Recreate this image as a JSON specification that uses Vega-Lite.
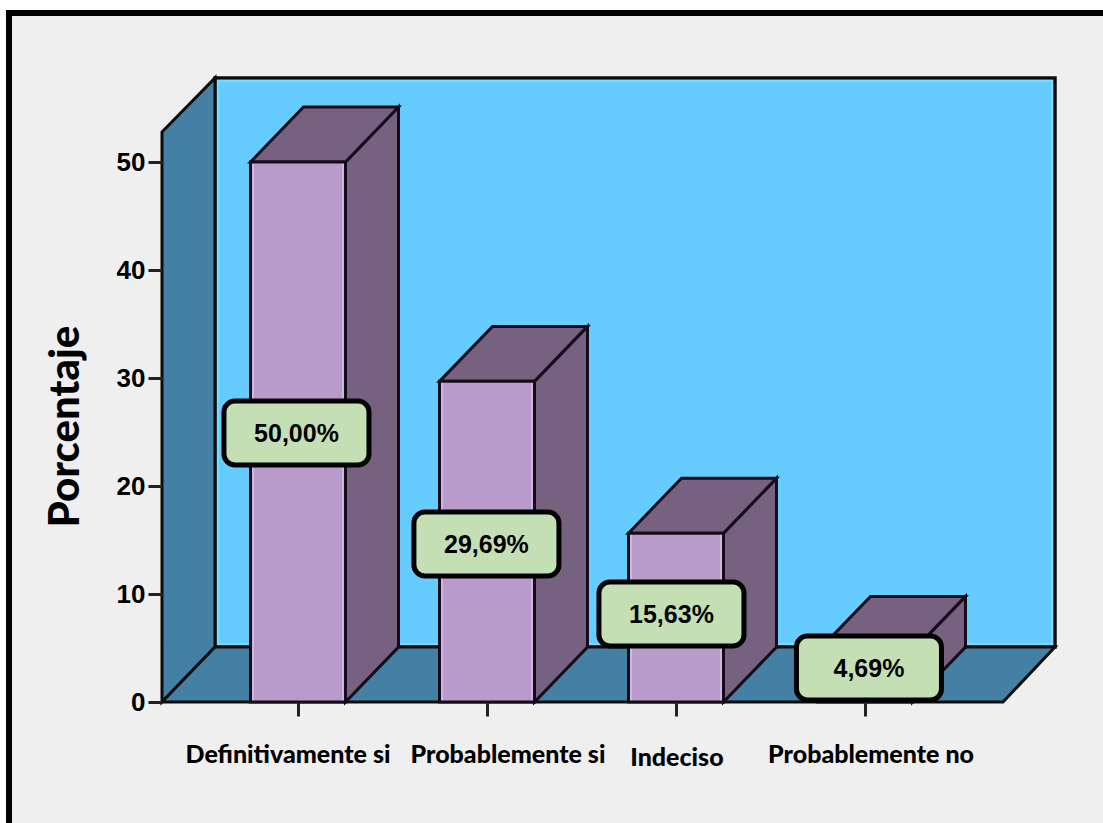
{
"$schema":"https://vega.github.io/schema/vega-lite/v6.json",
"width":1103,"height":823,"padding":0,
"autosize":{"type":"fit","contains":"padding"},
"background":"#ffffff",
"view":{"stroke":null},
"config":{"font":"Liberation Sans"},
"datasets":{
"barras":[
{"categoria":"Definitivamente si","posicion":0,"porcentaje":50,"etiqueta":"50,00%","etqX":-0.008,"etqY":24.9,"catX":-0.053,"catY":-4.9},
{"categoria":"Probablemente si","posicion":1,"porcentaje":29.69,"etiqueta":"29,69%","etqX":0.997,"etqY":14.63,"catX":1.111,"catY":-4.9},
{"categoria":"Indeciso","posicion":2,"porcentaje":15.63,"etiqueta":"15,63%","etqX":1.976,"etqY":8.15,"catX":2.005,"catY":-5.2},
{"categoria":"Probablemente no","posicion":3,"porcentaje":4.69,"etiqueta":"4,69%","etqX":3.021,"etqY":3.15,"catX":3.032,"catY":-4.9}
],
"lados":[
{"b":"A","x":0.2513,"y0":0,"y1":50},{"b":"A","x":0.5317,"y0":5.09,"y1":55.09},
{"b":"B","x":1.2513,"y0":0,"y1":29.69},{"b":"B","x":1.5317,"y0":5.09,"y1":34.78},
{"b":"C","x":2.2513,"y0":0,"y1":15.63},{"b":"C","x":2.5317,"y0":5.09,"y1":20.72},
{"b":"D","x":3.2513,"y0":0,"y1":4.69},{"b":"D","x":3.5317,"y0":5.09,"y1":9.78}
],
"tapas":[
{"b":"A","y":50,"x0":-0.2513,"x1":0.2513},{"b":"A","y":55.09,"x0":0.0291,"x1":0.5317},
{"b":"B","y":29.69,"x0":0.7487,"x1":1.2513},{"b":"B","y":34.78,"x0":1.0291,"x1":1.5317},
{"b":"C","y":15.63,"x0":1.7487,"x1":2.2513},{"b":"C","y":20.72,"x0":2.0291,"x1":2.5317},
{"b":"D","y":4.69,"x0":2.7487,"x1":3.2513},{"b":"D","y":9.78,"x0":3.0291,"x1":3.5317}
]
},
"layer":[
{"data":{"values":[{"x0":-1.5291,"x1":4.2593,"y0":63.8,"y1":-11.2037}]},
 "mark":{"type":"rect","fill":"#efefef"},
 "encoding":{
  "x":{"field":"x0","type":"quantitative","scale":{"domain":[-1.5767,4.2593],"nice":false,"zero":false,"padding":0},
    "axis":{"values":[0,1,2,3],"labels":false,"domain":false,"grid":false,"ticks":true,"tickSize":14,"tickWidth":3,"tickColor":"#222222","offset":-121,"title":null,"zindex":1}},
  "x2":{"field":"x1"},
  "y":{"field":"y0","type":"quantitative","scale":{"domain":[-11.2037,65],"nice":false,"zero":false,"padding":0},
    "axis":{"values":[0,10,20,30,40,50],"domain":false,"grid":false,"ticks":true,"tickSize":14,"tickWidth":3,"tickColor":"#222222","offset":-162,"labelFontSize":26,"labelFontWeight":"bold","labelColor":"#000000","labelPadding":3,
      "title":"Porcentaje","titleFont":"Lato","titleFontSize":42,"titleFontWeight":900,"titleColor":"#000000","titleAngle":270,"titleX":-97,"titleY":426,"titleBaseline":"middle","zindex":1}},
  "y2":{"field":"y1"}
 }},
{"data":{"values":[{"x0":-1.545,"x1":4.2593,"y0":64.07,"y1":63.52},{"x0":-1.545,"x1":-1.5132,"y0":64.07,"y1":-11.2037}]},
 "mark":{"type":"rect","fill":"#000000"},
 "encoding":{"x":{"field":"x0","type":"quantitative"},"x2":{"field":"x1"},"y":{"field":"y0","type":"quantitative"},"y2":{"field":"y1"}}},
{"data":{"values":[{"x0":-0.4392,"x1":4.0053,"y0":5.09,"y1":57.78}]},
 "mark":{"type":"rect","fill":"#66ccff","stroke":"#0c0c0c","strokeWidth":3.5},
 "encoding":{"x":{"field":"x0","type":"quantitative"},"x2":{"field":"x1"},"y":{"field":"y0","type":"quantitative"},"y2":{"field":"y1"}}},
{"data":{"values":[{"x0":-0.4242,"x1":3.9903,"y0":5.35,"y1":57.52}]},
 "mark":{"type":"rect","fillOpacity":0,"stroke":"#7adcff","strokeWidth":2},
 "encoding":{"x":{"field":"x0","type":"quantitative"},"x2":{"field":"x1"},"y":{"field":"y0","type":"quantitative"},"y2":{"field":"y1"}}},
{"data":{"values":[{"x":-0.7196,"y0":0,"y1":52.78},{"x":-0.4392,"y0":5.09,"y1":57.78}]},
 "mark":{"type":"area","orient":"vertical","fill":"#4380a3","stroke":"#0c0c0c","strokeWidth":3},
 "encoding":{"x":{"field":"x","type":"quantitative"},"y":{"field":"y1","type":"quantitative","stack":null},"y2":{"field":"y0"}}},
{"data":{"values":[{"y":0,"x0":-0.7196,"x1":3.7302},{"y":5.09,"x0":-0.4392,"x1":4.0053}]},
 "mark":{"type":"area","orient":"horizontal","fill":"#4380a3","stroke":"#0c0c0c","strokeWidth":3},
 "encoding":{"y":{"field":"y","type":"quantitative"},"x":{"field":"x1","type":"quantitative","stack":null},"x2":{"field":"x0"}}},
{"data":{"name":"lados"},
 "mark":{"type":"area","orient":"vertical","fill":"#776180","stroke":"#150c1a","strokeWidth":3},
 "encoding":{"detail":{"field":"b"},"x":{"field":"x","type":"quantitative"},"y":{"field":"y1","type":"quantitative","stack":null},"y2":{"field":"y0"}}},
{"data":{"name":"tapas"},
 "mark":{"type":"area","orient":"horizontal","fill":"#776180","stroke":"#150c1a","strokeWidth":3},
 "encoding":{"detail":{"field":"b"},"y":{"field":"y","type":"quantitative"},"x":{"field":"x1","type":"quantitative","stack":null},"x2":{"field":"x0"}}},
{"data":{"name":"barras"},
 "mark":{"type":"bar","orient":"vertical","size":95,"fill":"#b89bcb"},
 "encoding":{"x":{"field":"posicion","type":"quantitative"},"y":{"field":"porcentaje","type":"quantitative"}}},
{"data":{"name":"barras"},
 "mark":{"type":"bar","orient":"vertical","size":90,"fillOpacity":0,"stroke":"#d2b6e4","strokeWidth":2},
 "encoding":{"x":{"field":"posicion","type":"quantitative"},"y":{"field":"porcentaje","type":"quantitative"}}},
{"data":{"name":"barras"},
 "mark":{"type":"bar","orient":"vertical","size":95,"fillOpacity":0,"stroke":"#150c1a","strokeWidth":3},
 "encoding":{"x":{"field":"posicion","type":"quantitative"},"y":{"field":"porcentaje","type":"quantitative"}}},
{"data":{"name":"barras"},
 "mark":{"type":"rect","width":145,"height":64,"fill":"#c5dfb5","stroke":"#000000","strokeWidth":5,"cornerRadius":11},
 "encoding":{"x":{"field":"etqX","type":"quantitative"},"y":{"field":"etqY","type":"quantitative"}}},
{"data":{"name":"barras"},
 "mark":{"type":"text","fontSize":25,"fontWeight":"bold","color":"#000000","align":"center","baseline":"middle","dy":1},
 "encoding":{"x":{"field":"etqX","type":"quantitative"},"y":{"field":"etqY","type":"quantitative"},"text":{"field":"etiqueta"}}},
{"data":{"name":"barras"},
 "mark":{"type":"text","font":"Lato","fontSize":25,"fontWeight":900,"color":"#000000","align":"center","baseline":"middle"},
 "encoding":{"x":{"field":"catX","type":"quantitative"},"y":{"field":"catY","type":"quantitative"},"text":{"field":"categoria"}}}
]
}
